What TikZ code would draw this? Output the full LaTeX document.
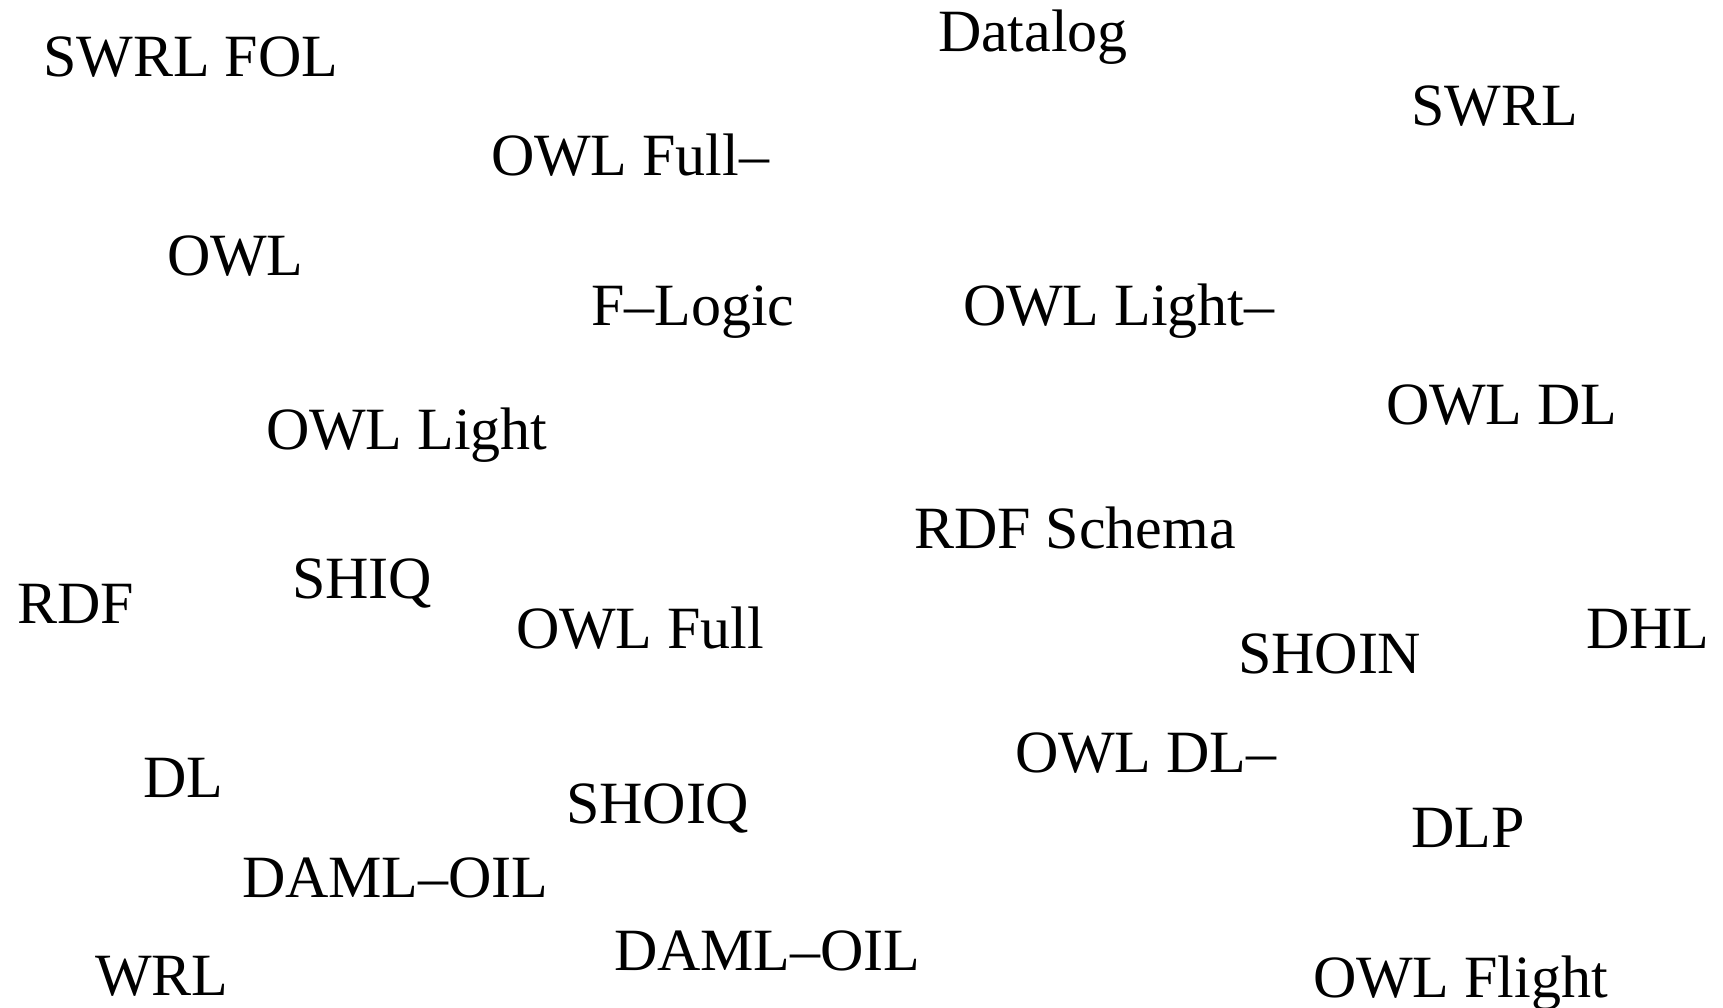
\documentclass[tikz,border=0pt]{standalone}
\usepackage{fontspec}
\setmainfont{Liberation Serif}
\begin{document}
\begin{tikzpicture}[x=1pt,y=-1pt,
  lbl/.style={anchor=base west,inner sep=0pt,outer sep=0pt,font=\fontsize{60}{72}\selectfont}]
\useasboundingbox (0,0) rectangle (1723,1007);
\node[lbl] (swrlfol)   at (43,76)    {SWRL FOL};
\node[lbl] (datalog)   at (938,51)   {Datalog};
\node[lbl] (swrl)      at (1411,125) {SWRL};
\node[lbl] (owlfullm)  at (491,175)  {OWL Full–};
\node[lbl] (owl)       at (167,275)  {OWL};
\node[lbl] (flogic)    at (591,325)  {F–Logic};
\node[lbl] (owllightm) at (963,325)  {OWL Light–};
\node[lbl] (owldl)     at (1386,424) {OWL DL};
\node[lbl] (owllight)  at (266,449)  {OWL Light};
\node[lbl] (rdfschema) at (914,548)  {RDF Schema};
\node[lbl] (rdf)       at (17,623)   {RDF};
\node[lbl] (shiq)      at (292,598)  {SHIQ};
\node[lbl] (owlfull)   at (516,648)  {OWL Full};
\node[lbl] (dhl)       at (1586,648) {DHL};
\node[lbl] (shoin)     at (1238,673) {SHOIN};
\node[lbl] (owldlm)    at (1015,772) {OWL DL–};
\node[lbl] (dl)        at (143,797)  {DL};
\node[lbl] (shoiq)     at (566,823)  {SHOIQ};
\node[lbl] (dlp)       at (1411,847) {DLP};
\node[lbl] (damloila)  at (242,897)  {DAML–OIL};
\node[lbl] (damloilb)  at (614,970)  {DAML–OIL};
\node[lbl] (wrl)       at (95,995)   {WRL};
\node[lbl] (owlflight) at (1313,997) {OWL Flight};
\end{tikzpicture}
\end{document}
